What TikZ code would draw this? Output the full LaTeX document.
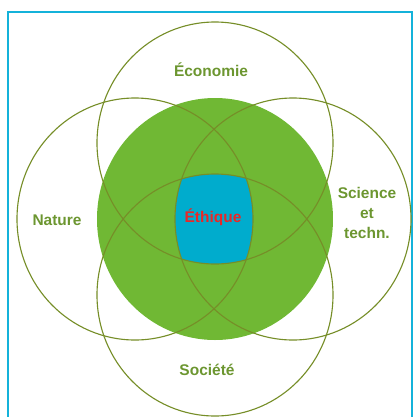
\documentclass[tikz,border=0pt]{standalone}
\usepackage{fontspec}
\setmainfont{Liberation Sans}
\definecolor{frameblue}{RGB}{20,178,218}
\definecolor{leaf}{RGB}{112,184,52}
\definecolor{water}{RGB}{0,172,205}
\definecolor{ringline}{RGB}{118,142,40}
\definecolor{tagtext}{RGB}{108,150,48}
\definecolor{ethred}{RGB}{232,40,40}
\begin{document}
\begin{tikzpicture}[x=0.025cm, y=-0.025cm,
    ring/.style={draw=ringline, line width=0.8pt},
    tag/.style={text=tagtext, font=\fontsize{11}{14}\selectfont\bfseries, align=center}]
    \clip (0,0) rectangle (414,417);
    \draw [frameblue, line width=2pt] (8,12) rectangle (412,440);
    % green core and the blue common part of the four rings
    \fill [leaf] (215,219) ellipse [x radius=118, y radius=121];
    \begin{scope}
        \clip (215,143) ellipse [x radius=118, y radius=121];
        \clip (215,295) ellipse [x radius=118, y radius=121];
        \clip (135,219) ellipse [x radius=118, y radius=121];
        \clip (293,219) ellipse [x radius=118, y radius=121];
        \fill [water] (160,160) rectangle (270,280);
    \end{scope}
    % the four rings
    \foreach \cx/\cy in {215/143, 215/295, 135/219, 293/219}
        \draw [ring] (\cx,\cy) ellipse [x radius=118, y radius=121];
    \node [tag] (economie) at (211,70) {Économie};
    \node [tag] (nature) at (57,220) {Nature};
    \node [tag] (science) at (367,213) {Science\\et\\techn.};
    \node [tag] (societe) at (207,370) {Société};
    \node [tag, text=ethred] (ethique) at (213,217) {Éthique};
\end{tikzpicture}
\end{document}
